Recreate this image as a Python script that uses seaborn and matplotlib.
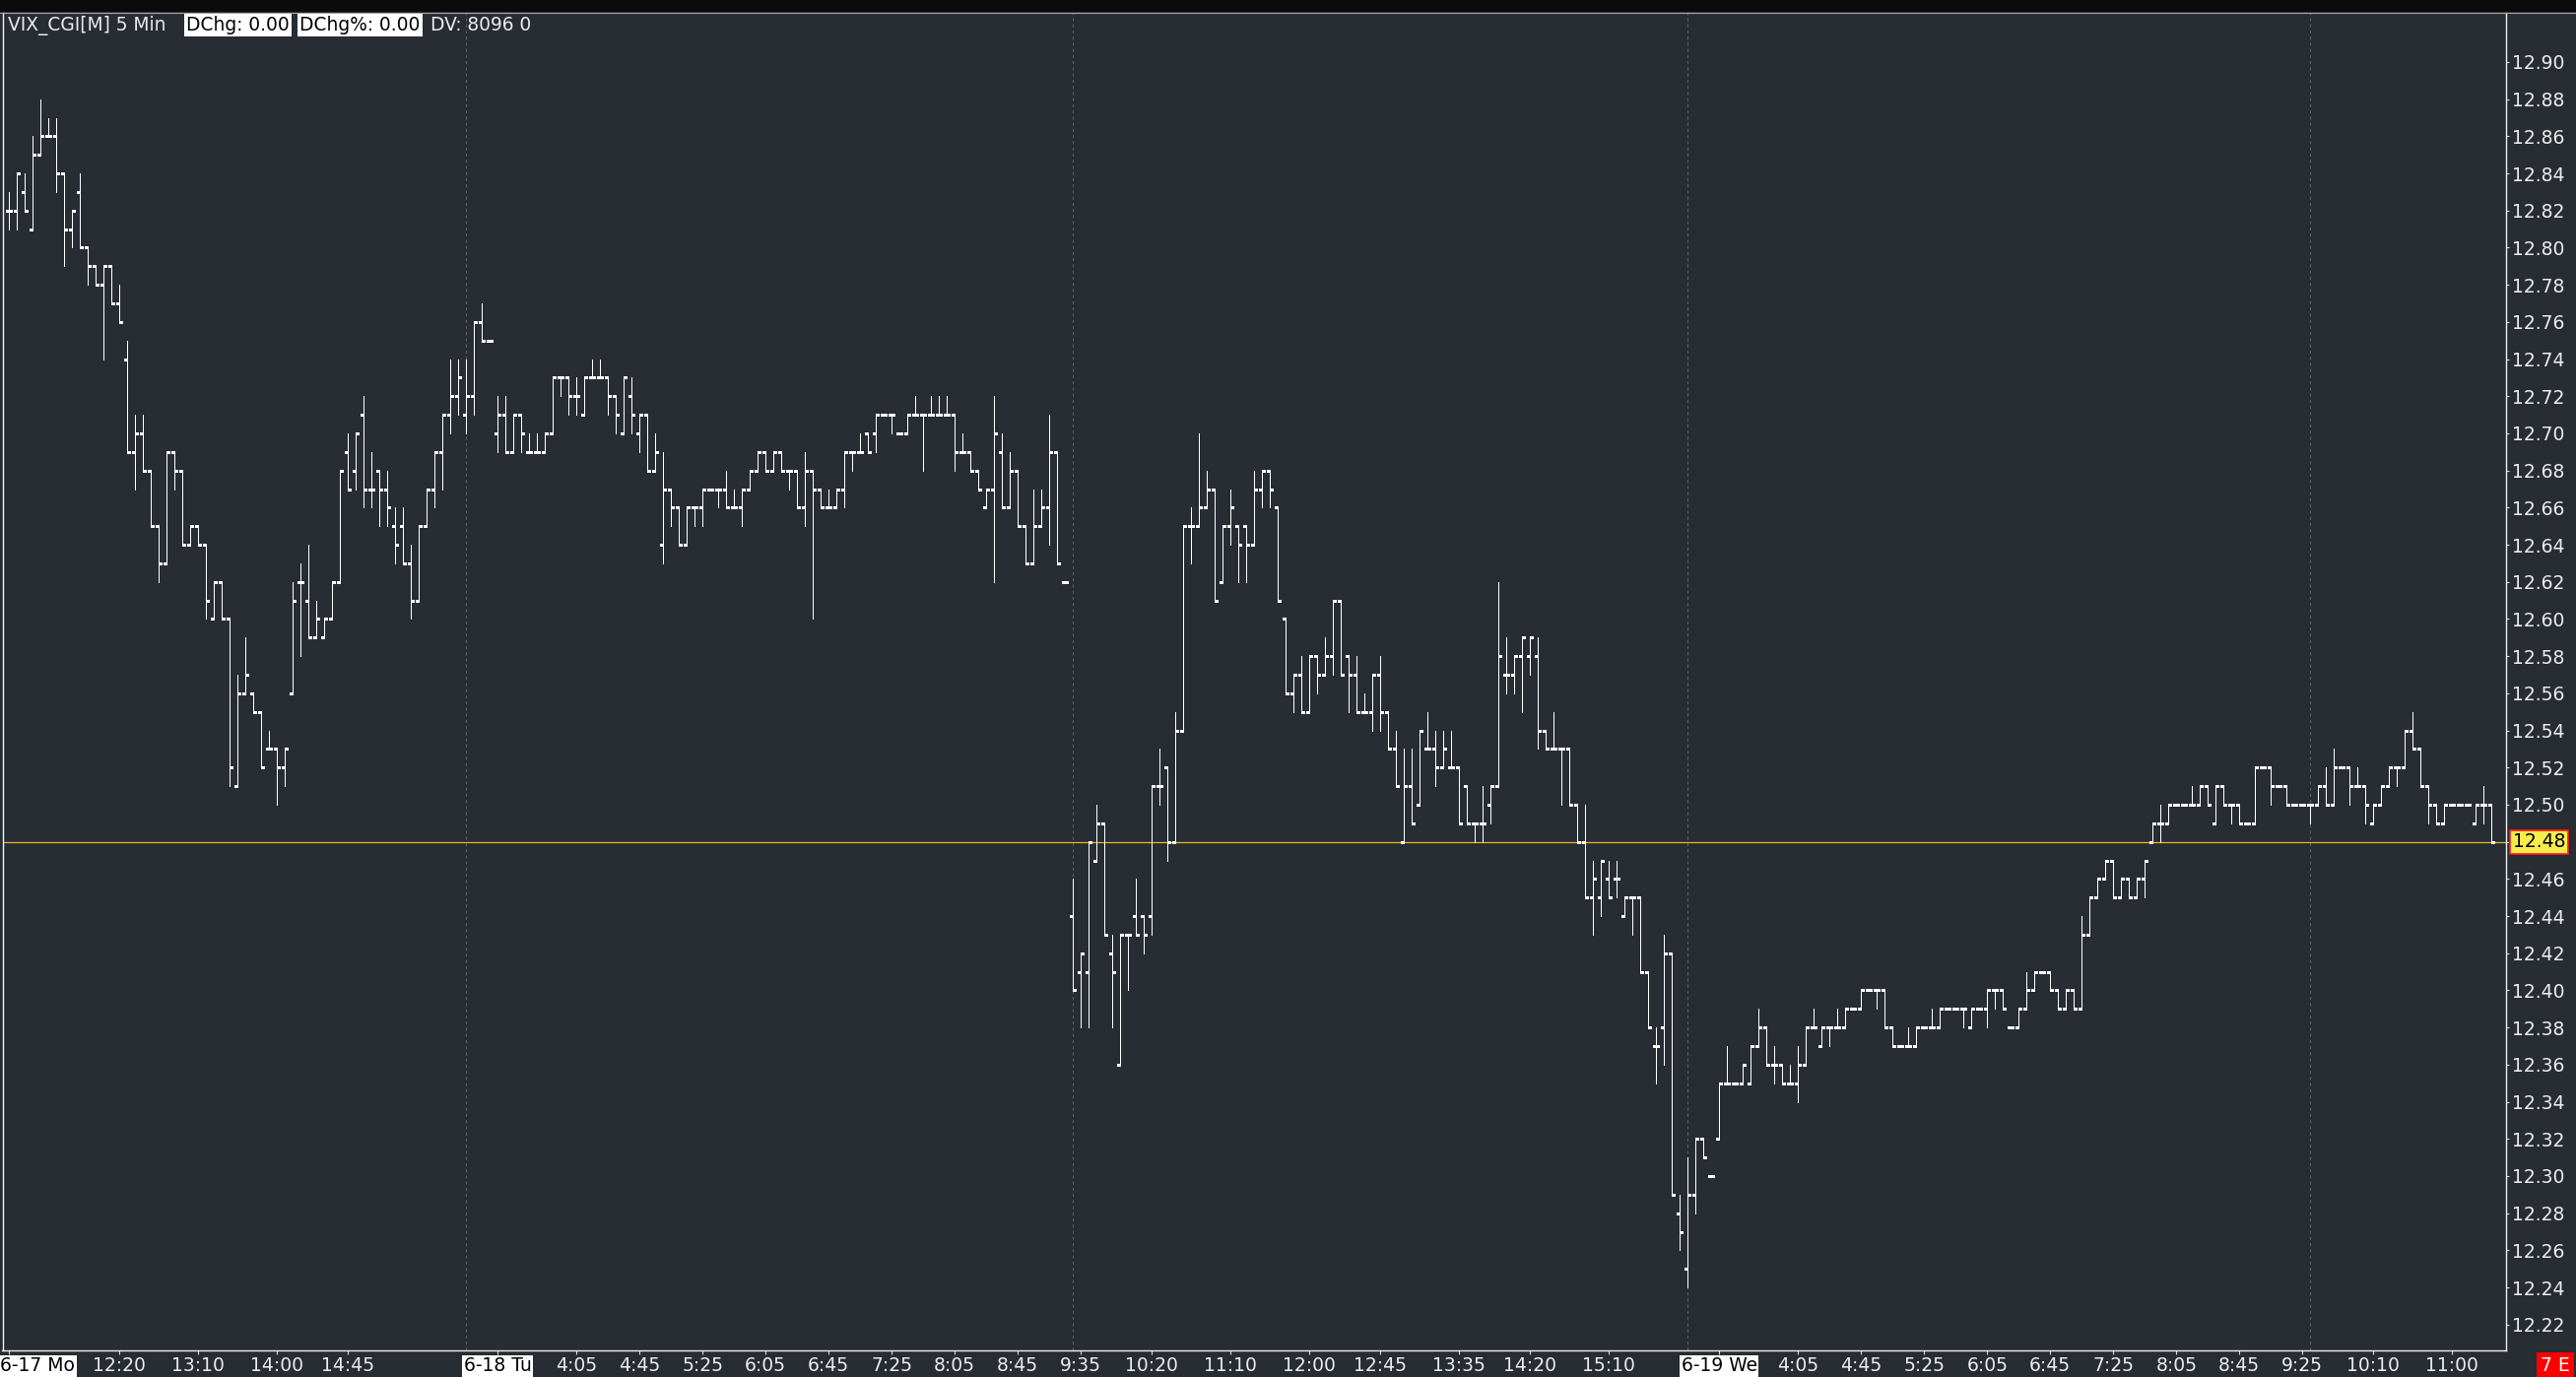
import numpy as np
import pandas as pd
import matplotlib
matplotlib.use("Agg")
import matplotlib.pyplot as plt
import seaborn as sns
from matplotlib.patches import Rectangle
from matplotlib.lines import Line2D
from matplotlib.transforms import blended_transform_factory, ScaledTranslation

# ---------------- data (5-minute OHLC bars, VIX_CGI) ----------------
opens = [
    12.82, 12.82, 12.83, 12.81, 12.85, 12.86, 12.86, 12.84, 12.81, 12.83,
    12.80, 12.79, 12.78, 12.79, 12.77, 12.74, 12.69, 12.70, 12.68, 12.65,
    12.63, 12.69, 12.68, 12.64, 12.65, 12.64, 12.60, 12.62, 12.60, 12.51,
    12.56, 12.56, 12.55, 12.53, 12.53, 12.52, 12.56, 12.62, 12.61, 12.59,
    12.59, 12.60, 12.62, 12.69, 12.68, 12.71, 12.67, 12.68, 12.67, 12.65,
    12.65, 12.63, 12.61, 12.65, 12.67, 12.69, 12.71, 12.72, 12.71, 12.72,
    12.76, 12.75,
    12.70, 12.71, 12.69, 12.71, 12.69, 12.69, 12.69, 12.70, 12.73, 12.73,
    12.72, 12.71, 12.73, 12.73, 12.73, 12.72, 12.70, 12.72, 12.70, 12.71,
    12.68, 12.64, 12.67, 12.66, 12.64, 12.66, 12.66, 12.67, 12.67, 12.67,
    12.66, 12.66, 12.67, 12.68, 12.69, 12.68, 12.69, 12.68, 12.68, 12.66,
    12.68, 12.67, 12.66, 12.66, 12.67, 12.69, 12.69, 12.70, 12.70, 12.71,
    12.71, 12.70, 12.70, 12.71, 12.71, 12.71, 12.71, 12.71, 12.71, 12.69,
    12.69, 12.68, 12.66, 12.67, 12.69, 12.66, 12.68, 12.65, 12.63, 12.65,
    12.66, 12.69, 12.62,
    12.44, 12.41, 12.41, 12.47, 12.49, 12.42, 12.36, 12.43, 12.44, 12.44,
    12.44, 12.51, 12.52, 12.48, 12.54, 12.65, 12.65, 12.66, 12.67, 12.62,
    12.65, 12.65, 12.65, 12.64, 12.67, 12.68, 12.66, 12.60, 12.56, 12.57,
    12.55, 12.58, 12.57, 12.58, 12.61, 12.58, 12.57, 12.55, 12.55, 12.57,
    12.55, 12.53, 12.48, 12.51, 12.50, 12.53, 12.53, 12.52, 12.52, 12.52,
    12.51, 12.49, 12.49, 12.50, 12.51, 12.57, 12.57, 12.58, 12.58, 12.58,
    12.54, 12.53, 12.53, 12.53, 12.50, 12.48, 12.45, 12.45, 12.46, 12.46,
    12.44, 12.45, 12.45, 12.41, 12.37, 12.38, 12.42, 12.28,
    12.25, 12.29, 12.32, 12.30, 12.32, 12.35, 12.35, 12.35, 12.35, 12.37,
    12.38, 12.36, 12.36, 12.35, 12.35, 12.36, 12.38, 12.37, 12.38, 12.38,
    12.38, 12.39, 12.39, 12.40, 12.40, 12.40, 12.38, 12.37, 12.37, 12.37,
    12.38, 12.38, 12.38, 12.39, 12.39, 12.39, 12.38, 12.39, 12.39, 12.40,
    12.40, 12.38, 12.38, 12.39, 12.40, 12.41, 12.41, 12.40, 12.39, 12.40,
    12.39, 12.43, 12.45, 12.46, 12.47, 12.45, 12.46, 12.45, 12.46, 12.48,
    12.49, 12.49, 12.50, 12.50, 12.50, 12.50, 12.51, 12.49, 12.51, 12.50,
    12.50, 12.49, 12.49, 12.52, 12.52, 12.51, 12.51, 12.50, 12.50,
    12.50, 12.50, 12.51, 12.50, 12.52, 12.52, 12.51, 12.51, 12.49, 12.50,
    12.51, 12.52, 12.52, 12.54, 12.53, 12.51, 12.50, 12.49, 12.50, 12.50,
    12.50, 12.49, 12.50, 12.50,
]
highs = [
    12.83, 12.84, 12.84, 12.86, 12.88, 12.87, 12.87, 12.84, 12.82, 12.84,
    12.80, 12.79, 12.79, 12.79, 12.78, 12.75, 12.71, 12.71, 12.68, 12.65,
    12.69, 12.69, 12.68, 12.65, 12.65, 12.64, 12.62, 12.62, 12.60, 12.57,
    12.59, 12.56, 12.55, 12.54, 12.53, 12.53, 12.62, 12.63, 12.64, 12.61,
    12.60, 12.62, 12.68, 12.70, 12.70, 12.72, 12.69, 12.68, 12.68, 12.66,
    12.66, 12.64, 12.65, 12.67, 12.69, 12.71, 12.74, 12.74, 12.74, 12.76,
    12.77, 12.75,
    12.72, 12.72, 12.71, 12.71, 12.70, 12.70, 12.70, 12.73, 12.73, 12.73,
    12.73, 12.73, 12.74, 12.74, 12.73, 12.72, 12.73, 12.73, 12.71, 12.71,
    12.70, 12.69, 12.67, 12.66, 12.66, 12.66, 12.67, 12.67, 12.67, 12.68,
    12.67, 12.67, 12.68, 12.69, 12.69, 12.69, 12.69, 12.68, 12.68, 12.69,
    12.68, 12.67, 12.67, 12.67, 12.69, 12.69, 12.70, 12.70, 12.71, 12.71,
    12.71, 12.70, 12.71, 12.72, 12.71, 12.72, 12.72, 12.72, 12.71, 12.70,
    12.69, 12.68, 12.67, 12.72, 12.70, 12.69, 12.68, 12.65, 12.67, 12.67,
    12.71, 12.69, 12.62,
    12.46, 12.42, 12.48, 12.50, 12.49, 12.43, 12.43, 12.43, 12.46, 12.44,
    12.51, 12.53, 12.52, 12.55, 12.65, 12.66, 12.70, 12.68, 12.67, 12.65,
    12.67, 12.65, 12.65, 12.68, 12.68, 12.68, 12.66, 12.60, 12.57, 12.58,
    12.58, 12.58, 12.59, 12.61, 12.61, 12.58, 12.58, 12.56, 12.57, 12.58,
    12.55, 12.54, 12.53, 12.53, 12.54, 12.55, 12.54, 12.54, 12.54, 12.52,
    12.51, 12.49, 12.51, 12.51, 12.62, 12.59, 12.58, 12.59, 12.59, 12.59,
    12.54, 12.55, 12.53, 12.53, 12.50, 12.50, 12.47, 12.47, 12.47, 12.47,
    12.45, 12.45, 12.45, 12.41, 12.38, 12.43, 12.42, 12.29,
    12.31, 12.32, 12.32, 12.30, 12.35, 12.37, 12.35, 12.36, 12.37, 12.39,
    12.38, 12.37, 12.36, 12.36, 12.37, 12.38, 12.39, 12.38, 12.38, 12.39,
    12.39, 12.39, 12.40, 12.40, 12.40, 12.40, 12.38, 12.37, 12.38, 12.38,
    12.38, 12.39, 12.39, 12.39, 12.39, 12.39, 12.39, 12.39, 12.40, 12.40,
    12.40, 12.38, 12.39, 12.41, 12.41, 12.41, 12.41, 12.40, 12.40, 12.40,
    12.44, 12.45, 12.46, 12.47, 12.47, 12.46, 12.46, 12.46, 12.47, 12.49,
    12.50, 12.50, 12.50, 12.50, 12.51, 12.51, 12.51, 12.51, 12.51, 12.50,
    12.50, 12.49, 12.52, 12.52, 12.52, 12.51, 12.51, 12.50, 12.50,
    12.50, 12.51, 12.52, 12.53, 12.52, 12.52, 12.52, 12.51, 12.50, 12.51,
    12.52, 12.52, 12.54, 12.55, 12.53, 12.51, 12.50, 12.50, 12.50, 12.50,
    12.50, 12.50, 12.51, 12.50,
]
lows = [
    12.81, 12.81, 12.82, 12.81, 12.85, 12.86, 12.83, 12.79, 12.80, 12.80,
    12.78, 12.78, 12.74, 12.77, 12.76, 12.69, 12.67, 12.68, 12.65, 12.62,
    12.63, 12.67, 12.64, 12.64, 12.64, 12.60, 12.60, 12.60, 12.51, 12.51,
    12.56, 12.55, 12.52, 12.53, 12.50, 12.51, 12.56, 12.58, 12.59, 12.59,
    12.59, 12.60, 12.62, 12.67, 12.67, 12.66, 12.66, 12.65, 12.65, 12.63,
    12.63, 12.60, 12.61, 12.65, 12.66, 12.67, 12.70, 12.71, 12.70, 12.71,
    12.75, 12.75,
    12.69, 12.69, 12.69, 12.69, 12.69, 12.69, 12.69, 12.70, 12.72, 12.71,
    12.71, 12.71, 12.73, 12.73, 12.71, 12.70, 12.70, 12.70, 12.69, 12.68,
    12.68, 12.63, 12.65, 12.64, 12.64, 12.65, 12.65, 12.67, 12.66, 12.66,
    12.66, 12.65, 12.67, 12.68, 12.68, 12.68, 12.68, 12.67, 12.66, 12.65,
    12.60, 12.66, 12.66, 12.66, 12.66, 12.68, 12.69, 12.69, 12.69, 12.71,
    12.70, 12.70, 12.70, 12.71, 12.68, 12.71, 12.71, 12.71, 12.68, 12.69,
    12.68, 12.67, 12.66, 12.62, 12.66, 12.66, 12.65, 12.63, 12.63, 12.65,
    12.64, 12.63, 12.62,
    12.40, 12.38, 12.38, 12.47, 12.43, 12.38, 12.36, 12.40, 12.43, 12.42,
    12.43, 12.50, 12.47, 12.48, 12.54, 12.63, 12.65, 12.66, 12.61, 12.62,
    12.64, 12.62, 12.62, 12.64, 12.66, 12.66, 12.61, 12.56, 12.55, 12.55,
    12.55, 12.56, 12.57, 12.57, 12.57, 12.55, 12.55, 12.55, 12.54, 12.54,
    12.53, 12.51, 12.48, 12.49, 12.50, 12.53, 12.51, 12.52, 12.52, 12.49,
    12.49, 12.48, 12.48, 12.49, 12.51, 12.56, 12.56, 12.55, 12.57, 12.53,
    12.53, 12.53, 12.50, 12.50, 12.48, 12.45, 12.43, 12.44, 12.45, 12.45,
    12.44, 12.43, 12.41, 12.38, 12.35, 12.36, 12.29, 12.26,
    12.24, 12.28, 12.31, 12.30, 12.32, 12.35, 12.35, 12.35, 12.35, 12.37,
    12.36, 12.35, 12.35, 12.35, 12.34, 12.36, 12.38, 12.37, 12.37, 12.38,
    12.38, 12.39, 12.39, 12.40, 12.39, 12.38, 12.37, 12.37, 12.37, 12.37,
    12.38, 12.38, 12.38, 12.39, 12.39, 12.38, 12.38, 12.39, 12.38, 12.39,
    12.39, 12.38, 12.38, 12.39, 12.40, 12.41, 12.40, 12.39, 12.39, 12.39,
    12.39, 12.43, 12.45, 12.46, 12.45, 12.45, 12.45, 12.45, 12.45, 12.48,
    12.48, 12.49, 12.50, 12.50, 12.50, 12.50, 12.50, 12.49, 12.50, 12.49,
    12.49, 12.49, 12.49, 12.52, 12.50, 12.51, 12.50, 12.50, 12.50,
    12.49, 12.50, 12.50, 12.50, 12.52, 12.50, 12.51, 12.49, 12.49, 12.50,
    12.51, 12.51, 12.52, 12.53, 12.51, 12.49, 12.49, 12.49, 12.50, 12.50,
    12.50, 12.49, 12.49, 12.48,
]
closes = [
    12.82, 12.84, 12.82, 12.85, 12.86, 12.86, 12.84, 12.81, 12.82, 12.80,
    12.79, 12.78, 12.79, 12.77, 12.76, 12.69, 12.70, 12.68, 12.65, 12.63,
    12.69, 12.68, 12.64, 12.65, 12.64, 12.61, 12.62, 12.60, 12.52, 12.56,
    12.57, 12.55, 12.52, 12.53, 12.52, 12.53, 12.61, 12.62, 12.59, 12.60,
    12.60, 12.62, 12.68, 12.67, 12.70, 12.67, 12.67, 12.67, 12.66, 12.64,
    12.63, 12.61, 12.65, 12.67, 12.69, 12.71, 12.72, 12.73, 12.72, 12.76,
    12.75, 12.75,
    12.71, 12.69, 12.71, 12.70, 12.69, 12.69, 12.70, 12.73, 12.73, 12.72,
    12.72, 12.73, 12.73, 12.73, 12.72, 12.71, 12.73, 12.71, 12.71, 12.68,
    12.69, 12.67, 12.66, 12.64, 12.66, 12.66, 12.67, 12.67, 12.67, 12.66,
    12.66, 12.67, 12.68, 12.69, 12.68, 12.69, 12.68, 12.68, 12.66, 12.68,
    12.67, 12.66, 12.66, 12.67, 12.69, 12.69, 12.69, 12.69, 12.71, 12.71,
    12.71, 12.70, 12.71, 12.71, 12.71, 12.71, 12.71, 12.71, 12.69, 12.69,
    12.68, 12.67, 12.67, 12.70, 12.66, 12.68, 12.65, 12.63, 12.65, 12.66,
    12.69, 12.63, 12.62,
    12.40, 12.42, 12.48, 12.49, 12.43, 12.41, 12.43, 12.43, 12.43, 12.43,
    12.51, 12.51, 12.48, 12.54, 12.65, 12.65, 12.66, 12.67, 12.61, 12.65,
    12.66, 12.64, 12.64, 12.67, 12.68, 12.67, 12.61, 12.56, 12.57, 12.55,
    12.58, 12.57, 12.58, 12.61, 12.57, 12.57, 12.55, 12.55, 12.57, 12.55,
    12.53, 12.51, 12.51, 12.49, 12.54, 12.53, 12.52, 12.53, 12.52, 12.49,
    12.49, 12.49, 12.49, 12.51, 12.58, 12.57, 12.58, 12.59, 12.59, 12.54,
    12.53, 12.53, 12.53, 12.50, 12.48, 12.45, 12.46, 12.47, 12.45, 12.46,
    12.45, 12.45, 12.41, 12.38, 12.37, 12.42, 12.29, 12.27,
    12.29, 12.32, 12.31, 12.30, 12.35, 12.35, 12.35, 12.36, 12.37, 12.38,
    12.36, 12.36, 12.35, 12.35, 12.36, 12.38, 12.38, 12.38, 12.38, 12.38,
    12.39, 12.39, 12.40, 12.40, 12.40, 12.38, 12.37, 12.37, 12.37, 12.38,
    12.38, 12.38, 12.39, 12.39, 12.39, 12.39, 12.39, 12.39, 12.40, 12.40,
    12.39, 12.38, 12.39, 12.40, 12.41, 12.41, 12.40, 12.39, 12.40, 12.39,
    12.43, 12.45, 12.46, 12.47, 12.45, 12.46, 12.45, 12.46, 12.47, 12.49,
    12.49, 12.50, 12.50, 12.50, 12.50, 12.51, 12.50, 12.51, 12.50, 12.50,
    12.49, 12.49, 12.52, 12.52, 12.51, 12.51, 12.50, 12.50, 12.50,
    12.50, 12.51, 12.50, 12.52, 12.52, 12.51, 12.51, 12.50, 12.50, 12.51,
    12.52, 12.52, 12.54, 12.53, 12.51, 12.50, 12.49, 12.50, 12.50, 12.50,
    12.50, 12.50, 12.50, 12.48,
]

tick_bars = [0, 14, 24, 34, 43, 62, 72, 80, 88, 96, 104, 112, 120, 128,
             136, 145, 155, 165, 174, 184, 193, 203, 217, 227, 235, 243,
             251, 259, 267, 275, 283, 291, 300, 310]
tick_labels = ["6-17 Mo", "12:20", "13:10", "14:00", "14:45", "6-18 Tu",
               "4:05", "4:45", "5:25", "6:05", "6:45", "7:25", "8:05", "8:45",
               "9:35", "10:20", "11:10", "12:00", "12:45", "13:35", "14:20",
               "15:10", "6-19 We", "4:05", "4:45", "5:25", "6:05", "6:45",
               "7:25", "8:05", "8:45", "9:25", "10:10", "11:00"]
date_labels = ["6-17 Mo", "6-18 Tu", "6-19 We"]
session_starts = [58, 135, 213, 292]
price_ticks = [12.22, 12.24, 12.26, 12.28, 12.30, 12.32, 12.34, 12.36, 12.38,
               12.40, 12.42, 12.44, 12.46, 12.48, 12.50, 12.52, 12.54, 12.56,
               12.58, 12.60, 12.62, 12.64, 12.66, 12.68, 12.70, 12.72, 12.74,
               12.76, 12.78, 12.80, 12.82, 12.84, 12.86, 12.88, 12.90]
last_price = 12.48
header_title = "VIX_CGI[M] 5 Min"
header_boxes = ["DChg: 0.00", "DChg%: 0.00"]
header_tail = "DV: 8096 0"

df = pd.DataFrame({"open": opens, "high": highs, "low": lows, "close": closes})
df["bar"] = np.arange(len(df))

# ---------------- style ----------------
BG = "#282c33"
FG = "#ececec"
W, H = 2615, 1398
sns.set_theme(style="dark", rc={"axes.facecolor": BG, "figure.facecolor": BG,
                                "axes.grid": False})
plt.rcParams["font.family"] = ["DejaVu Sans"]

fig = plt.figure(figsize=(W / 100, H / 100), dpi=100)
fig.patch.set_facecolor(BG)
ax = fig.add_axes([2.5 / W, 1 - 1371 / H, (2544 - 2.5) / W, (1371 - 13) / H])
ax.set_facecolor(BG)

# session separators
for s in session_starts:
    ax.axvline(s, color="#5d6169", lw=0.75, linestyle=(0, (3, 3)), zorder=1)

# last price line
ax.axhline(last_price, color="#e2bf1e", lw=0.9, zorder=2)

# OHLC bars
tick_w = 0.36
ax.vlines(df["bar"], df["low"], df["high"], color="white", lw=0.72,
          antialiased=False, zorder=3)
ax.hlines(df["open"], df["bar"] - tick_w, df["bar"], color="white", lw=1.0,
          antialiased=False, zorder=3)
ax.hlines(df["close"], df["bar"], df["bar"] + tick_w, color="white", lw=1.0,
          antialiased=False, zorder=3)

ax.set_xlim(-0.84, 316.84)
ax.set_ylim(12.2061, 12.9265)

# axes / ticks
ax.yaxis.tick_right()
ax.set_yticks(price_ticks)
ax.set_yticklabels([f"{v:.2f}" for v in price_ticks])
ax.tick_params(axis="y", which="major", direction="out", length=2.3, width=0.8,
               color="#d8d8d8", labelsize=13.5, labelcolor=FG, pad=2.2,
               left=False, right=True, labelleft=False, labelright=True)
ax.set_xticks(tick_bars)
ax.set_xticklabels(tick_labels)
ax.tick_params(axis="x", which="major", direction="out", length=2.6, width=0.8,
               color="#d8d8d8", labelsize=13.5, labelcolor=FG, pad=1.8,
               bottom=True, top=False)
for lbl in ax.get_xticklabels():
    if lbl.get_text() in date_labels:
        lbl.set_color("black")
        lbl.set_bbox(dict(boxstyle="square,pad=0.08", facecolor="white",
                          edgecolor="none"))
    if lbl.get_text() == date_labels[0]:
        lbl.set_transform(lbl.get_transform() +
                          ScaledTranslation(29 / 100, 0, fig.dpi_scale_trans))

for side in ["left", "bottom", "right"]:
    ax.spines[side].set_visible(True)
    ax.spines[side].set_color("#f0f0f0")
    ax.spines[side].set_linewidth(1.0)
ax.spines["top"].set_visible(False)
ax.set_xlabel("")
ax.set_ylabel("")

# last price tag on the axis
trans = blended_transform_factory(ax.transAxes, ax.transData)
ax.annotate(f"{last_price:.2f}", xy=(1, last_price), xycoords=trans,
            xytext=(7, 0), textcoords="offset pixels", ha="left", va="center",
            fontsize=13.5, color="black", annotation_clip=False,
            bbox=dict(boxstyle="square,pad=0.14", facecolor="#f6ec4c",
                      edgecolor="#ff1a1a", linewidth=1.2), zorder=10)

# top window strip
fig.patches.append(Rectangle((0, 1 - 12 / H), 1, 12 / H, transform=fig.transFigure,
                             facecolor="#0b0b0b", edgecolor="none", zorder=0))
fig.lines.append(Line2D([0, 1], [1 - 12.5 / H, 1 - 12.5 / H], transform=fig.transFigure,
                        color="#a8a8a8", lw=0.8))

# header texts
hy = 1 - 25.5 / H
fig.text(8 / W, hy, header_title, color=FG, fontsize=13.4, va="center", ha="left")
fig.text(189 / W, hy, header_boxes[0], color="black", fontsize=13.4, va="center",
         ha="left", bbox=dict(boxstyle="square,pad=0.12", facecolor="white",
                              edgecolor="none"))
fig.text(304 / W, hy, header_boxes[1], color="black", fontsize=13.4, va="center",
         ha="left", bbox=dict(boxstyle="square,pad=0.12", facecolor="white",
                              edgecolor="none"))
fig.text(437 / W, hy, header_tail, color=FG, fontsize=13.4, va="center", ha="left")

# bottom-right red tag
fig.text(2579 / W, 1 - 1386 / H, "7 E", color="white", fontsize=13.5, va="center",
         ha="left", bbox=dict(boxstyle="square,pad=0.2", facecolor="#ff0000",
                              edgecolor="none"))

fig.savefig("out.png", dpi=100, facecolor=BG)
